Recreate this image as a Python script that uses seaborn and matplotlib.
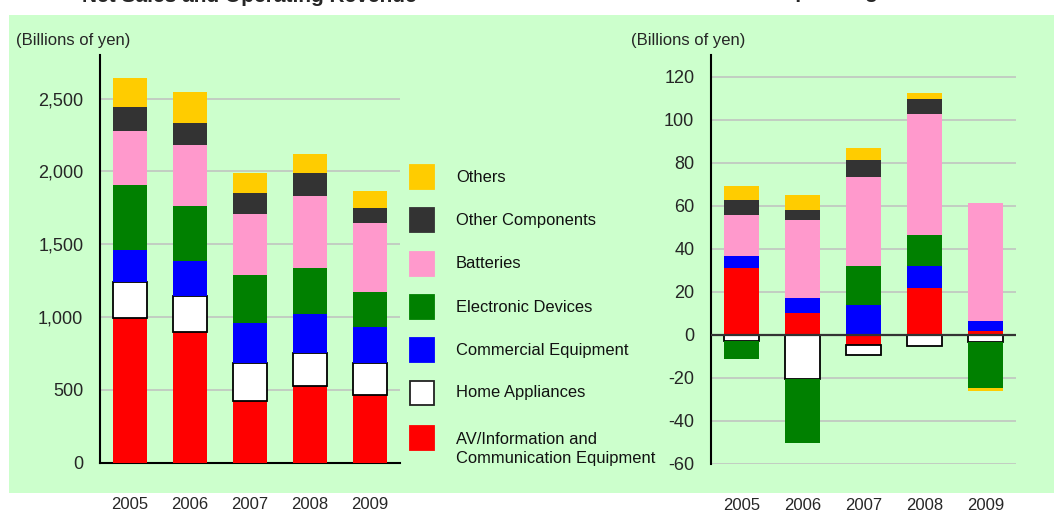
import numpy as np
import pandas as pd
import matplotlib.pyplot as plt
from matplotlib.patches import Rectangle
import seaborn as sns

sns.set_style("white")
plt.rcParams["font.family"] = ["Liberation Sans", "DejaVu Sans"]

years = ["2005", "2006", "2007", "2008", "2009"]
segments = ["AV/Information and\nCommunication Equipment", "Home Appliances",
            "Commercial Equipment", "Electronic Devices", "Batteries",
            "Other Components", "Others"]
colors = ["#FF0000", "#FFFFFF", "#0000FF", "#008000", "#FF99CC", "#333333", "#FFCC00"]

# net sales (billions of yen)
sales_av = [991, 895, 425, 528, 467]
sales_home = [249, 251, 257, 227, 215]
sales_commercial = [219, 238, 274, 265, 249]
sales_electronic = [451, 377, 335, 320, 242]
sales_batteries = [366, 419, 417, 494, 474]
sales_other_comp = [166, 155, 147, 158, 102]
sales_others = [199, 210, 135, 126, 115]

# operating income (billions of yen)
op_av = [30.7, 9.9, -5.1, 21.6, 1.5]
op_home = [-2.8, -20.8, -4.5, -5.4, -3.4]
op_commercial = [5.6, 7.3, 13.6, 10.4, 5.0]
op_electronic = [-8.6, -29.5, 18.4, 14.2, -21.3]
op_batteries = [19.3, 36.0, 41.3, 56.3, 54.7]
op_other_comp = [7.0, 4.5, 7.7, 7.0, 0.0]
op_others = [6.5, 7.0, 5.8, 2.9, -1.6]

sales = [sales_av, sales_home, sales_commercial, sales_electronic,
         sales_batteries, sales_other_comp, sales_others]
income = [op_av, op_home, op_commercial, op_electronic,
          op_batteries, op_other_comp, op_others]

W, H = 1054, 513
fig = plt.figure(figsize=(W / 100, H / 100), dpi=100)
fig.patch.set_facecolor("white")
fig.patches.append(Rectangle((9 / W, (H - 493) / H), 1 - 9 / W, (493 - 15) / H,
                             transform=fig.transFigure, facecolor="#CCFFCC",
                             edgecolor="none", zorder=-5))

ax1 = fig.add_axes([100 / W, (H - 462.7) / H, 300 / W, (462.7 - 55) / H])
ax2 = fig.add_axes([711 / W, (H - 463.5) / H, 305 / W, (463.5 - 55) / H])


def stacked(ax, series, width):
    pos = np.zeros(len(years))
    neg = np.zeros(len(years))
    for vals, c in zip(series, colors):
        vals = np.array(vals, dtype=float)
        bottom = np.where(vals >= 0, pos, neg)
        edge = "black" if c == "#FFFFFF" else c
        lw = 1.3 if c == "#FFFFFF" else 0
        df = pd.DataFrame({"year": years, "value": vals})
        sns.barplot(data=df, x="year", y="value", color=c, saturation=1,
                    errorbar=None, width=width, bottom=bottom,
                    edgecolor=edge, linewidth=lw, ax=ax, zorder=3)
        pos = pos + np.clip(vals, 0, None)
        neg = neg + np.clip(vals, None, 0)


stacked(ax1, sales, 0.57)
stacked(ax2, income, 0.59)

for ax in (ax1, ax2):
    ax.set_zorder(2)
    ax.set_facecolor("none")
    ax.set_xlim(-0.5, 4.5)
    ax.set_xlabel("")
    ax.set_ylabel("")
    ax.set_xticks(range(len(years)), years)
    ax.tick_params(axis="x", length=0, pad=25, labelsize=12)
    ax.tick_params(axis="y", length=0, pad=12, labelsize=13)
    ax.yaxis.grid(True, color="#C0C0C0", lw=1.1)
    ax.set_axisbelow(True)
    for s in ("top", "right"):
        ax.spines[s].set_visible(False)
    ax.spines["left"].set_color("black")
    ax.spines["left"].set_linewidth(1.5)

ticks1 = [0, 500, 1000, 1500, 2000, 2500]
ax1.set_ylim(0, 2800)
ax1.set_yticks(ticks1, [f"{t:,}" for t in ticks1])
ax1.spines["bottom"].set_color("black")
ax1.spines["bottom"].set_linewidth(1.5)

ticks2 = list(range(-60, 121, 20))
ax2.set_ylim(-60, 130)
ax2.set_yticks(ticks2, [str(t) for t in ticks2])
ax2.spines["bottom"].set_visible(False)
ax2.axhline(0, color="#333333", lw=1.6, zorder=5)

fig.text(16 / W, 1 - 40 / H, "(Billions of yen)", fontsize=12, va="center")
fig.text(631 / W, 1 - 40 / H, "(Billions of yen)", fontsize=12, va="center")

fig.text(249 / W, 1 - 2.5 / H, "Net Sales and Operating Revenue", fontsize=15,
         fontweight="bold", ha="center", va="baseline")
fig.text(868 / W, 1 + 1.5 / H, "Operating Income", fontsize=15,
         fontweight="bold", ha="center", va="baseline")

# legend
leg_y = [438, 393, 350, 307, 264, 220, 177]
for lab, c, y in zip(segments, colors, leg_y):
    edge = "#222222" if c == "#FFFFFF" else c
    fig.patches.append(Rectangle((410 / W, (H - y - 12) / H), 24 / W, 24 / H,
                                 transform=fig.transFigure, facecolor=c,
                                 edgecolor=edge, lw=1.3, zorder=2))
    ty = y + 11 if "\n" in lab else y
    fig.text(456 / W, 1 - ty / H, lab, fontsize=11.9, va="center",
             linespacing=1.35, color="#111111")

plt.savefig("out.png", dpi=100)
